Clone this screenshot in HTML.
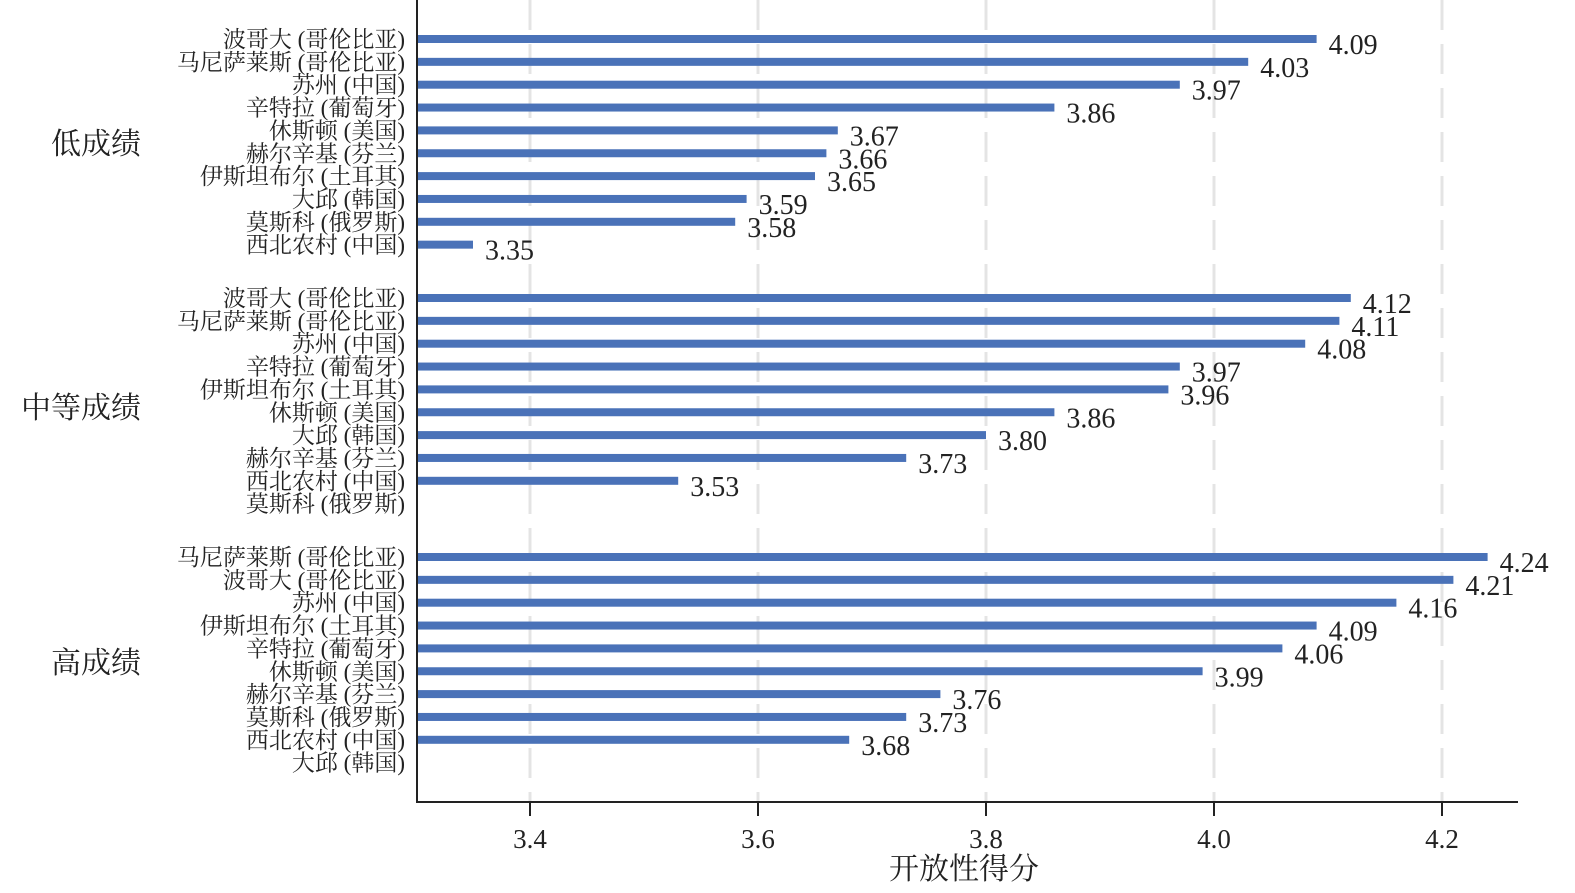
<!DOCTYPE html><html><head><meta charset="utf-8"><style>body{margin:0;background:#fff}svg{display:block}text{font-family:"Liberation Serif","Noto Serif CJK SC",serif;fill:#222}</style></head><body>
<svg width="1575" height="893" xmlns="http://www.w3.org/2000/svg" id="s"></svg>
<script>
const s=document.getElementById('s');let h='';
const X=v=>530+(v-3.4)*1140;
[3.4,3.6,3.8,4.0,4.2].forEach(t=>{const x=X(t);h+=`<line x1="${x}" y1="0" x2="${x}" y2="802" stroke="#e4e4e4" stroke-width="3" stroke-dasharray="30,14"/><line x1="${x}" y1="802" x2="${x}" y2="816" stroke="#222" stroke-width="2"/><text x="${x}" y="848" font-size="27" text-anchor="middle">${t.toFixed(1)}</text>`;});
const G=[[39,[["波哥大 (哥伦比亚)",4.09],["马尼萨莱斯 (哥伦比亚)",4.03],["苏州 (中国)",3.97],["辛特拉 (葡萄牙)",3.86],["休斯顿 (美国)",3.67],["赫尔辛基 (芬兰)",3.66],["伊斯坦布尔 (土耳其)",3.65],["大邱 (韩国)",3.59],["莫斯科 (俄罗斯)",3.58],["西北农村 (中国)",3.35]]],
[298,[["波哥大 (哥伦比亚)",4.12],["马尼萨莱斯 (哥伦比亚)",4.11],["苏州 (中国)",4.08],["辛特拉 (葡萄牙)",3.97],["伊斯坦布尔 (土耳其)",3.96],["休斯顿 (美国)",3.86],["大邱 (韩国)",3.80],["赫尔辛基 (芬兰)",3.73],["西北农村 (中国)",3.53],["莫斯科 (俄罗斯)",null]]],
[557,[["马尼萨莱斯 (哥伦比亚)",4.24],["波哥大 (哥伦比亚)",4.21],["苏州 (中国)",4.16],["伊斯坦布尔 (土耳其)",4.09],["辛特拉 (葡萄牙)",4.06],["休斯顿 (美国)",3.99],["赫尔辛基 (芬兰)",3.76],["莫斯科 (俄罗斯)",3.73],["西北农村 (中国)",3.68],["大邱 (韩国)",null]]]];
G.forEach(([y0,rows])=>rows.forEach(([n,v],i)=>{const y=y0+i*22.85;h+=`<text x="405" y="${y+8}" font-size="23" text-anchor="end">${n}</text>`;if(v!=null){const x=X(v);h+=`<rect x="417" y="${y-4}" width="${x-417}" height="8" fill="#4a72b8"/><text x="${x+12}" y="${y+15}" font-size="28">${v.toFixed(2)}</text>`;}}));
h+=`<text x="96" y="154" font-size="30" text-anchor="middle">低成绩</text><text x="81" y="418" font-size="30" text-anchor="middle">中等成绩</text><text x="96" y="673" font-size="30" text-anchor="middle">高成绩</text>`;
h+=`<polyline points="417,0 417,802 1518,802" fill="none" stroke="#222" stroke-width="2"/><text x="964" y="879" font-size="30" text-anchor="middle">开放性得分</text>`;
s.innerHTML=h;
</script></body></html>
